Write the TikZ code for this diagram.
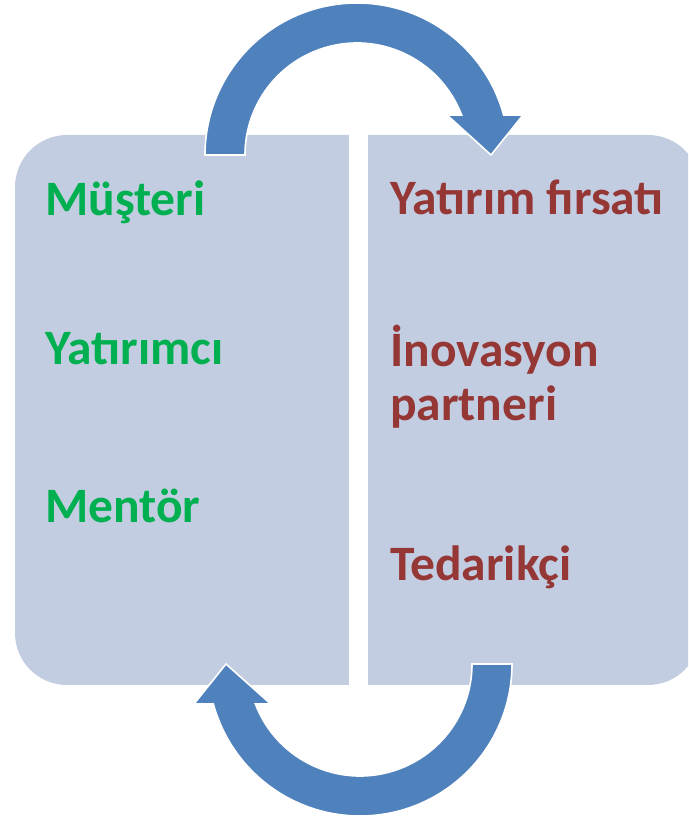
\documentclass[tikz,border=0pt]{standalone}
\usepackage{fontspec}
\setmainfont{Carlito}
\definecolor{boxfill}{HTML}{C3CDE2}
\definecolor{arrowblue}{HTML}{4F81BD}
\definecolor{txtgreen}{HTML}{00B050}
\definecolor{txtred}{HTML}{953735}
\begin{document}
\begin{tikzpicture}[x=1pt,y=1pt,
  lbl/.style={anchor=base west, inner sep=0pt, align=left,
    font=\fontsize{49.5}{54}\selectfont\bfseries},
  leftlbl/.style={lbl, text=txtgreen},
  rightlbl/.style={lbl, text=txtred},
  bigarrow/.style={fill=arrowblue, draw=white, line width=1.6pt, line join=miter}]
\path[use as bounding box, clip] (0,0) rectangle (688,819);
% panel
\fill[boxfill, rounded corners=52pt] (15,134) rectangle (700,684);
\fill[white] (349,130) rectangle (368,690);
% top arrow
\draw[bigarrow] (205,664) arc[start angle=180, end angle=15.26, radius=152]
  -- (523,704) -- (491,664) -- (447,704) -- (461.6,704)
  arc[start angle=20.92, end angle=180, radius=112] -- cycle;
% bottom arrow
\draw[bigarrow] (512,155) arc[start angle=0, end angle=-164.74, radius=152]
  -- (194,115) -- (226,155) -- (270.7,115) -- (255.4,115)
  arc[start angle=-159.08, end angle=0, radius=112] -- cycle;
% labels
\node[leftlbl] (m1) at (45,603) {Müşteri};
\node[leftlbl] (m2) at (45,454) {Yatırımcı};
\node[leftlbl] (m3) at (45,296) {Mentör};
\node[rightlbl] (r1) at (390,604) {Yatırım fırsatı};
\node[rightlbl] (r2) at (390,398) {İnovasyon\\partneri};
\node[rightlbl] (r3) at (390,238) {Tedarikçi};
\end{tikzpicture}
\end{document}
